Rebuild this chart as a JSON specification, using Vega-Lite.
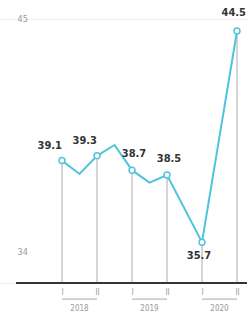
{
  "$schema": "https://vega.github.io/schema/vega-lite/v6.json",
  "width": 247,
  "height": 283,
  "autosize": {"type": "none"},
  "padding": {"top": 0, "left": 0, "right": 0, "bottom": 34},
  "config": {"view": {"stroke": null}, "font": "DejaVu Sans Condensed"},
  "datasets": {
    "series": [
      {"t": 0, "year": "2018", "value": 39.1, "marked": true},
      {"t": 1, "year": "2018", "value": 38.54, "marked": false},
      {"t": 2, "year": "2018", "value": 39.3, "marked": true},
      {"t": 3, "year": "2018", "value": 39.75, "marked": false},
      {"t": 4, "year": "2019", "value": 38.7, "marked": true},
      {"t": 5, "year": "2019", "value": 38.18, "marked": false},
      {"t": 6, "year": "2019", "value": 38.5, "marked": true},
      {"t": 8, "year": "2020", "value": 35.7, "marked": true},
      {"t": 10, "year": "2020", "value": 44.5, "marked": true}
    ],
    "years": [
      {"year": "2018", "start": 0, "end": 2, "mid": 1},
      {"year": "2019", "start": 4, "end": 6, "mid": 5},
      {"year": "2020", "start": 8, "end": 10, "mid": 9}
    ]
  },
  "layer": [
    {
      "data": {"name": "series"},
      "transform": [{"filter": "datum.marked"}],
      "mark": {"type": "rule", "color": "#aaaaaa", "strokeWidth": 1},
      "encoding": {
        "x": {
          "field": "t", "type": "quantitative",
          "scale": {"domain": [-3.543, 10.571], "nice": false, "zero": false},
          "axis": {
            "values": [0, 2, 4, 6, 8, 10],
            "labelExpr": "(datum.value / 2) % 2 == 0 ? 'I' : 'II'",
            "grid": false, "domain": false, "ticks": false, "tickSize": 0,
            "labelPadding": 5, "labelFontSize": 8, "labelColor": "#999", "title": null
          }
        },
        "y": {
          "field": "value", "type": "quantitative",
          "scale": {"domain": [34, 45.79], "nice": false, "zero": false},
          "axis": {
            "values": [34, 45],
            "domain": false, "ticks": false, "tickSize": 0,
            "labelAlign": "left", "labelPadding": -17, "labelBaseline": "middle",
            "labelOffset": {"condition": {"test": "datum.value == 34", "value": -32}, "value": 0},
            "labelFontSize": 9, "labelColor": "#999",
            "grid": true, "gridColor": "#eeeeee", "title": null
          }
        },
        "y2": {"datum": 34}
      }
    },
    {
      "data": {"name": "series"},
      "mark": {"type": "line", "color": "#52c3dc", "strokeWidth": 2},
      "encoding": {
        "x": {"field": "t", "type": "quantitative", "scale": {"domain": [-3.543, 10.571], "nice": false, "zero": false}},
        "y": {"field": "value", "type": "quantitative", "scale": {"domain": [34, 45.79], "nice": false, "zero": false}}
      }
    },
    {
      "data": {"values": [{}]},
      "mark": {"type": "rule", "color": "#333333", "strokeWidth": 2},
      "encoding": {
        "x": {"datum": -2.63, "type": "quantitative"},
        "x2": {"datum": 10.6},
        "y": {"datum": 34, "type": "quantitative"}
      }
    },
    {
      "data": {"name": "series"},
      "transform": [{"filter": "datum.marked"}],
      "mark": {"type": "point", "shape": "circle", "filled": true, "fill": "white", "stroke": "#52c3dc", "strokeWidth": 1.5, "size": 35, "opacity": 1},
      "encoding": {
        "x": {"field": "t", "type": "quantitative", "scale": {"domain": [-3.543, 10.571], "nice": false, "zero": false}},
        "y": {"field": "value", "type": "quantitative", "scale": {"domain": [34, 45.79], "nice": false, "zero": false}}
      }
    },
    {
      "data": {"name": "series"},
      "transform": [{"filter": "datum.t == 4 || datum.t == 6"}],
      "mark": {"type": "text", "align": "center", "baseline": "middle", "dy": -16, "dx": 2, "fontSize": 11, "fontWeight": "bold", "color": "#333333"},
      "encoding": {
        "x": {"field": "t", "type": "quantitative", "scale": {"domain": [-3.543, 10.571], "nice": false, "zero": false}},
        "y": {"field": "value", "type": "quantitative", "scale": {"domain": [34, 45.79], "nice": false, "zero": false}},
        "text": {"field": "value", "type": "quantitative", "format": ".1f"}
      }
    },
    {
      "data": {"name": "series"},
      "transform": [{"filter": "datum.t == 0 || datum.t == 2"}],
      "mark": {"type": "text", "align": "right", "baseline": "middle", "dy": -15, "dx": 0, "fontSize": 11, "fontWeight": "bold", "color": "#333333"},
      "encoding": {
        "x": {"field": "t", "type": "quantitative", "scale": {"domain": [-3.543, 10.571], "nice": false, "zero": false}},
        "y": {"field": "value", "type": "quantitative", "scale": {"domain": [34, 45.79], "nice": false, "zero": false}},
        "text": {"field": "value", "type": "quantitative", "format": ".1f"}
      }
    },
    {
      "data": {"name": "series"},
      "transform": [{"filter": "datum.t == 10"}],
      "mark": {"type": "text", "align": "right", "baseline": "middle", "dy": -18, "dx": 9, "fontSize": 11, "fontWeight": "bold", "color": "#333333"},
      "encoding": {
        "x": {"field": "t", "type": "quantitative", "scale": {"domain": [-3.543, 10.571], "nice": false, "zero": false}},
        "y": {"field": "value", "type": "quantitative", "scale": {"domain": [34, 45.79], "nice": false, "zero": false}},
        "text": {"field": "value", "type": "quantitative", "format": ".1f"}
      }
    },
    {
      "data": {"name": "series"},
      "transform": [{"filter": "datum.t == 8"}],
      "mark": {"type": "text", "align": "center", "baseline": "middle", "dy": 14, "dx": -3, "fontSize": 11, "fontWeight": "bold", "color": "#333333"},
      "encoding": {
        "x": {"field": "t", "type": "quantitative", "scale": {"domain": [-3.543, 10.571], "nice": false, "zero": false}},
        "y": {"field": "value", "type": "quantitative", "scale": {"domain": [34, 45.79], "nice": false, "zero": false}},
        "text": {"field": "value", "type": "quantitative", "format": ".1f"}
      }
    },
    {
      "data": {"name": "years"},
      "mark": {"type": "rule", "color": "#aaaaaa", "strokeWidth": 1},
      "encoding": {
        "x": {"field": "start", "type": "quantitative", "scale": {"domain": [-3.543, 10.571], "nice": false, "zero": false}},
        "x2": {"field": "end"},
        "y": {"datum": 33.33, "type": "quantitative", "scale": {"domain": [34, 45.79], "nice": false, "zero": false}}
      }
    },
    {
      "data": {"name": "years"},
      "mark": {"type": "text", "align": "center", "baseline": "middle", "fontSize": 8, "color": "#999999"},
      "encoding": {
        "x": {"field": "mid", "type": "quantitative", "scale": {"domain": [-3.543, 10.571], "nice": false, "zero": false}},
        "y": {"datum": 32.9, "type": "quantitative", "scale": {"domain": [34, 45.79], "nice": false, "zero": false}},
        "text": {"field": "year"}
      }
    }
  ]
}
